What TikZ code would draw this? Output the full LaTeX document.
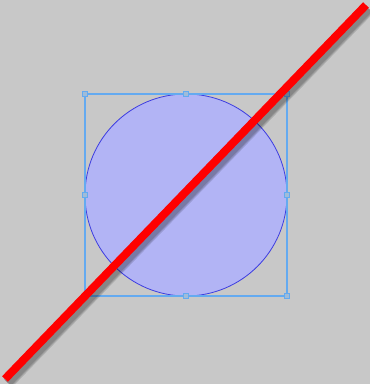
\documentclass[tikz,border=0pt]{standalone}
\definecolor{bg}{RGB}{200,200,200}
\definecolor{circfill}{RGB}{178,180,245}
\definecolor{circdraw}{RGB}{60,60,225}
\definecolor{selblue}{RGB}{100,170,240}
\definecolor{redline}{RGB}{255,0,0}
\begin{document}
\begin{tikzpicture}[x=1pt,y=-1pt,
  handle/.style={draw=selblue,fill=selblue!40!bg,line width=1pt,minimum size=5pt,inner sep=0pt,rectangle},
  shadowline/.style={line width=#1,draw=black,opacity=0.12}]
\fill[bg] (0,0) rectangle (370,384);
\useasboundingbox (0,0) rectangle (370,384);
% circle
\coordinate (c) at (186,195);
\filldraw[fill=circfill,draw=circdraw,line width=0.8pt] (c) circle (101);
% selection box
\draw[selblue,line width=1.2pt] (85,94) rectangle (287,296);
\foreach \x/\y in {85/94,186/94,287/94,85/195,287/195,85/296,186/296,287/296}
  \node[handle] at (\x,\y) {};
% red line with shadow
\coordinate (a) at (5,379);
\coordinate (b) at (366,5);
\foreach \w in {12,10,8}
  \draw[shadowline=\w pt] ([shift={(3,4)}]a) -- ([shift={(3,4)}]b);
\draw[redline,line width=8pt] (a) -- (b);
\end{tikzpicture}
\end{document}
